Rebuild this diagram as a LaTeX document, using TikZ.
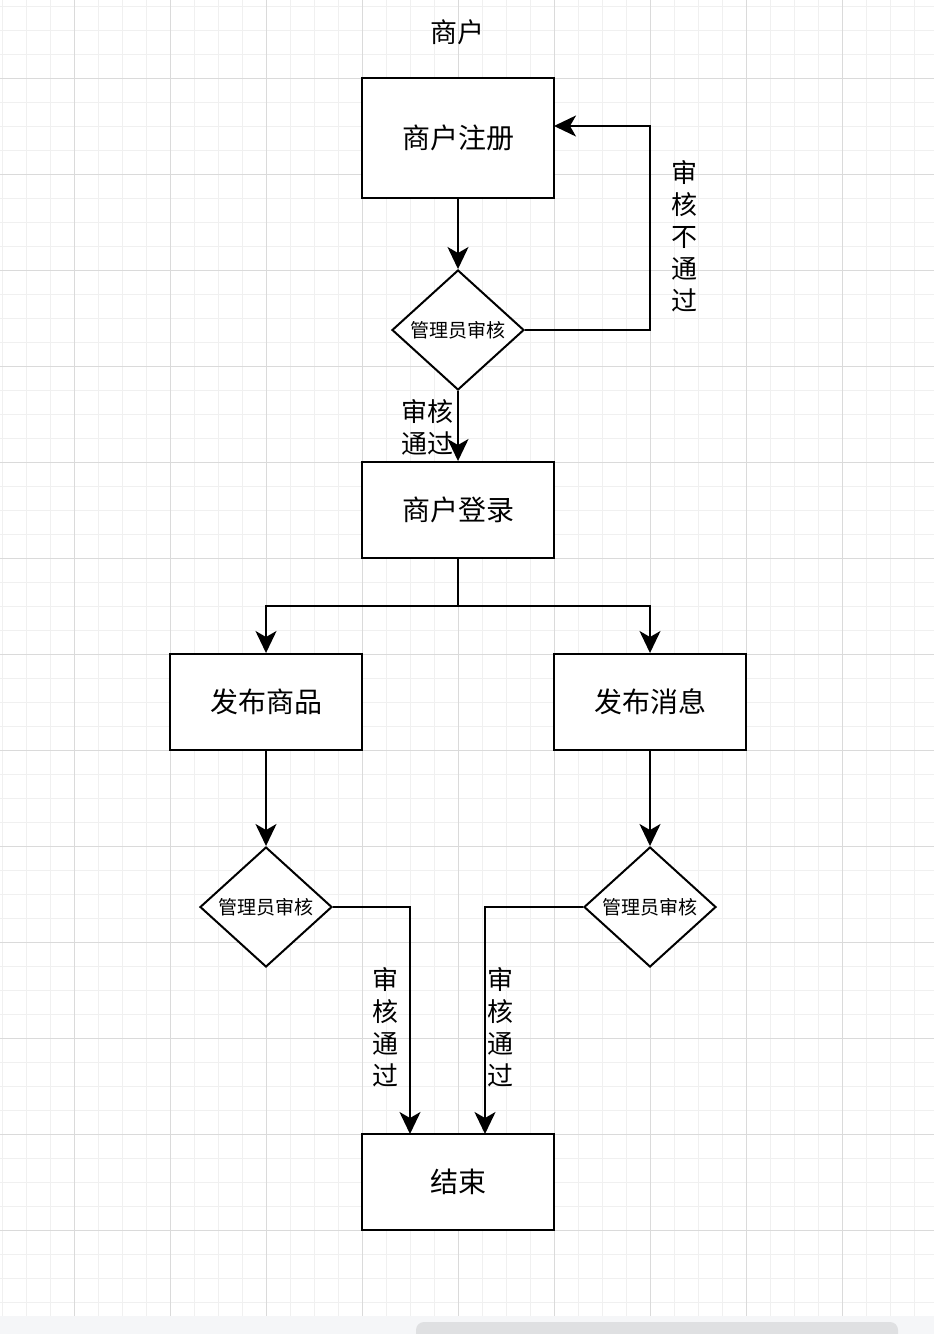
\documentclass[tikz,border=0pt]{standalone}
\usepackage{fontspec}
\newfontfamily\cjk{Noto Sans CJK SC}
\usetikzlibrary{arrows.meta,shapes.geometric}
\definecolor{gridminor}{RGB}{240,240,240}
\definecolor{gridmajor}{RGB}{218,218,218}
\definecolor{barbg}{RGB}{245,246,248}
\definecolor{pill}{RGB}{223,224,226}
\tikzset{
  stepbox/.style={draw, line width=2pt, fill=white, minimum width=192pt, minimum height=96pt, inner sep=0pt, font=\cjk\fontsize{28}{32}\selectfont},
  decide/.style={diamond, draw, line width=2pt, fill=white, minimum width=132pt, minimum height=120pt, inner sep=0pt, aspect=1.1, font=\cjk\fontsize{19}{22}\selectfont},
  conn/.style={line width=2pt, -{Stealth[length=22pt,width=21pt,inset=6pt]}},
  plainline/.style={line width=2pt},
  lbl/.style={align=center, inner sep=0pt, font=\cjk\fontsize{26}{32}\selectfont},
}
\begin{document}
\begin{tikzpicture}[x=1pt,y=-1pt]
\useasboundingbox (0,0) rectangle (934,1334);
% grid
\foreach \x in {2,26,...,934} \draw[gridminor, line width=1pt] (\x,0) -- (\x,1316);
\foreach \y in {6,30,...,1316} \draw[gridminor, line width=1pt] (0,\y) -- (934,\y);
\foreach \x in {74,170,...,934} \draw[gridmajor, line width=1pt] (\x,0) -- (\x,1316);
\foreach \y in {78,174,...,1316} \draw[gridmajor, line width=1pt] (0,\y) -- (934,\y);
% bottom bar
\fill[barbg] (0,1316) rectangle (934,1334);
\fill[pill, rounded corners=8pt] (416,1322) rectangle (898,1344);

% title
\node[lbl, font=\cjk\fontsize{27}{32}\selectfont] (title) at (457,32) {商户};

% nodes
\node[stepbox, minimum height=120pt] (reg) at (458,138) {商户注册};
\node[decide] (d1) at (458,330) {管理员审核};
\node[stepbox] (login) at (458,510) {商户登录};
\node[stepbox] (pubg) at (266,702) {发布商品};
\node[stepbox] (pubm) at (650,702) {发布消息};
\node[decide] (d2) at (266,907) {管理员审核};
\node[decide] (d3) at (650,907) {管理员审核};
\node[stepbox] (end) at (458,1182) {结束};

% helper coordinates
\coordinate (loopcorner) at (650,330);
\coordinate (regin) at (554,126);
\coordinate (split) at (458,606);
\coordinate (endinL) at (410,1134);
\coordinate (endinR) at (485,1134);

% connectors
\draw[conn] (reg.south) -- (d1.north);
\draw[conn] (d1.east) -- (loopcorner) |- (regin);
\draw[conn] (d1.south) -- (login.north);
\draw[plainline] (login.south) -- (split);
\draw[conn] (split) -| (pubg.north);
\draw[conn] (split) -| (pubm.north);
\draw[conn] (pubg.south) -- (d2.north);
\draw[conn] (pubm.south) -- (d3.north);
\draw[conn] (d2.east) -| (endinL);
\draw[conn] (d3.west) -| (endinR);

% labels
\node[lbl] (lnopass) at (684,236) {审\\核\\不\\通\\过};
\node[lbl] (lpass1) at (427,427) {审核\\通过};
\node[lbl] (lpass2) at (385,1027) {审\\核\\通\\过};
\node[lbl] (lpass3) at (500,1027) {审\\核\\通\\过};
\end{tikzpicture}
\end{document}
